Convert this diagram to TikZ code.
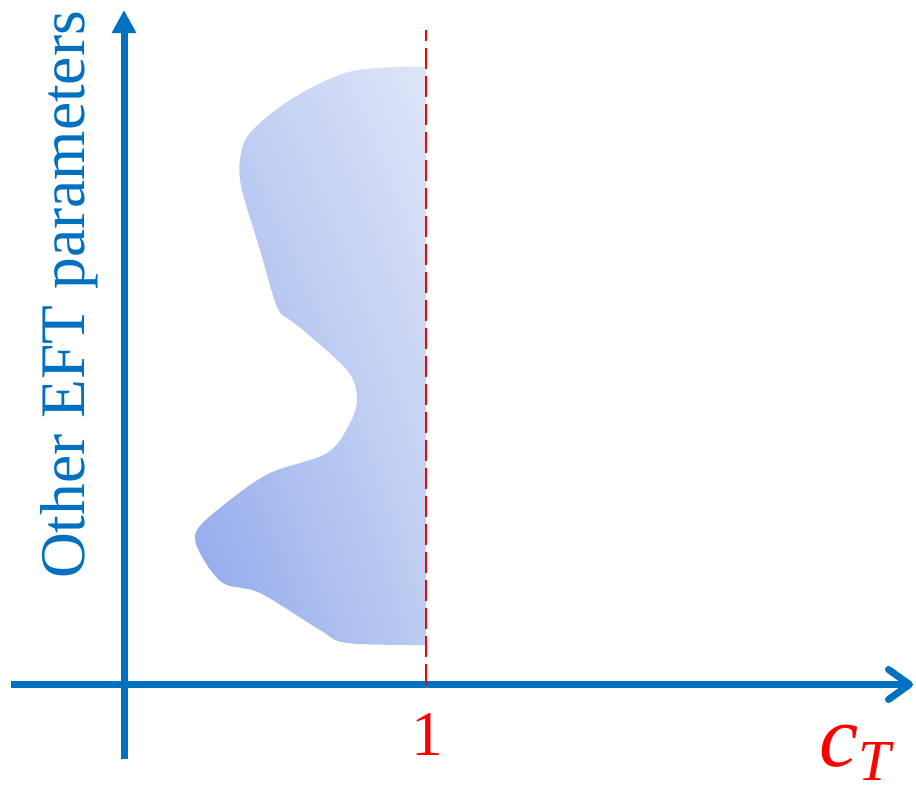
\documentclass[tikz,border=0pt]{standalone}
\usepackage{fontspec}
\setmainfont{LiberationSerif}[Extension=.ttf,UprightFont=*-Regular,
  ItalicFont=*-Italic,BoldFont=*-Bold]
\usetikzlibrary{arrows.meta,shadings}
\definecolor{axisblue}{HTML}{0070C0}
\definecolor{blobdark}{HTML}{8EA7EC}
\definecolor{blobmid}{HTML}{BCCBF1}
\definecolor{bloblight}{HTML}{DEE5F8}

\begin{document}
\begin{tikzpicture}[x=1pt,y=-1pt,
  axis/.style={draw=axisblue,line width=7pt},
  limit/.style={draw=red,line width=2.4pt,dash pattern=on 21pt off 7pt},
  label/.style={inner sep=0pt,font=\fontsize{63.5}{70}\selectfont}]
\useasboundingbox (0,0) rectangle (916,793);

\coordinate (xstart) at (11,684.5);
\coordinate (xend) at (913,684.5);
\coordinate (ystart) at (124,759);
\coordinate (yend) at (124,10);
\coordinate (cutlow) at (426,684.5);
\coordinate (cuthigh) at (426,30);

% allowed region
\shade[lower left=blobdark,upper right=bloblight,
  upper left=blobmid,lower right=blobmid]
  plot[smooth,tension=0.55] coordinates {(426,645) (347,643) (320,630)
    (260,593) (223,583) (200,553) (197,530) (230,500) (270,473)
    (327,453) (350,423) (357,397) (347,370) (303,330) (290,320)
    (277,307) (260,250) (242,190) (240,160) (250,133) (290,100)
    (345,73) (395,67) (426,67)} -- cycle;

\draw[axis,-{Straight Barb[length=21pt,width=30pt,round]}] (xstart)--(xend);
\draw[axis,-{Triangle[length=23pt,width=23pt]}] (ystart)--(yend);
\draw[limit] (cutlow)--(cuthigh);

\node[label,text=axisblue,rotate=90,anchor=base] (ylabel) at (84,295)
  {Other EFT parameters};
\node[label,text=red,anchor=base] (one) at (427,755) {1};
\node[inner sep=0pt,text=red,anchor=base west,
  font=\fontsize{88}{88}\selectfont\itshape] (ctlabel) at (819,766)
  {c\raisebox{-14pt}{\fontsize{58}{58}\selectfont T}};
\end{tikzpicture}
\end{document}
